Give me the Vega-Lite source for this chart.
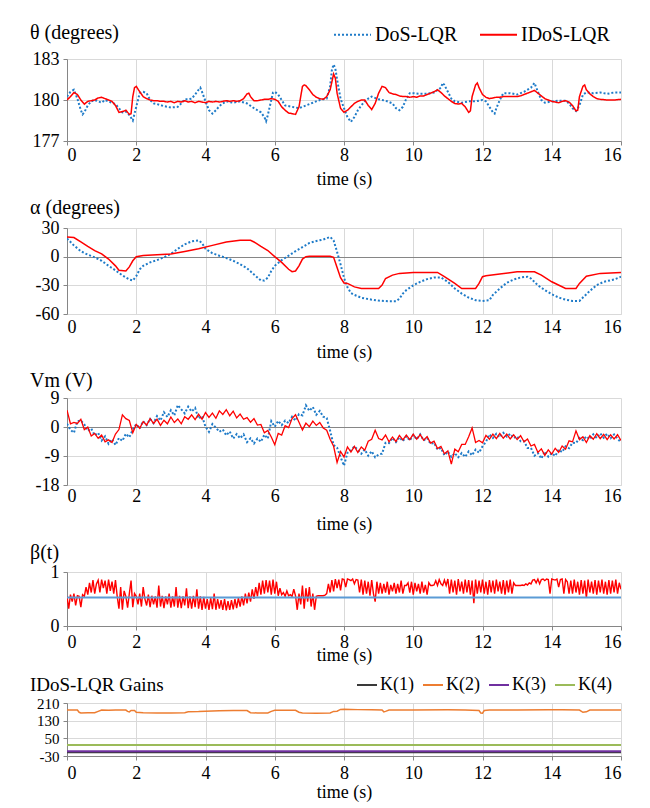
{
"$schema":"https://vega.github.io/schema/vega-lite/v6.json",
"background":"white",
"padding":{"left":30,"top":15,"right":10,"bottom":3},
"spacing":10,
"resolve":{"scale":{"color":"independent","strokeDash":"independent"},"legend":{"color":"independent","strokeDash":"independent"}},
"config":{
 "font":"Liberation Serif",
 "view":{"stroke":null},
 "axis":{"labelFont":"Liberation Serif","labelFontSize":18,"labelColor":"#000","titleFont":"Liberation Serif","titleFontSize":18,"titleFontWeight":"normal","titleColor":"#000","gridColor":"#d9d9d9","domainColor":"#868686","tickColor":"#868686","tickSize":4,"labelPadding":3},
 "axisY":{"labelPadding":4,"labelOverlap":false,"labelExpr":"datum.value + ''"},
 "title":{"font":"Liberation Serif","fontSize":20,"fontWeight":"normal","anchor":"start","frame":"group","color":"#000"},
 "legend":{"labelFont":"Liberation Serif","labelColor":"#000","orient":"none","direction":"horizontal","symbolType":"stroke","symbolStrokeWidth":2}
},
"datasets":{
"thD":[{"t":0,"v":180.25},{"t":0.1,"v":180.6},{"t":0.2,"v":180.75},{"t":0.3,"v":180.1},{"t":0.4,"v":179.25},{"t":0.45,"v":178.95},{"t":0.5,"v":179.1},{"t":0.6,"v":179.6},{"t":0.7,"v":179.9},{"t":0.8,"v":180},{"t":0.9,"v":179.9},{"t":1,"v":179.8},{"t":1.1,"v":180},{"t":1.2,"v":179.9},{"t":1.3,"v":179.8},{"t":1.4,"v":179.7},{"t":1.5,"v":179.4},{"t":1.6,"v":179.1},{"t":1.7,"v":179.15},{"t":1.8,"v":178.9},{"t":1.9,"v":178.5},{"t":2,"v":179.5},{"t":2.1,"v":180.5},{"t":2.2,"v":180.6},{"t":2.3,"v":180.5},{"t":2.4,"v":180},{"t":2.5,"v":179.75},{"t":2.6,"v":179.7},{"t":2.8,"v":179.55},{"t":3,"v":179.45},{"t":3.2,"v":179.5},{"t":3.3,"v":179.75},{"t":3.4,"v":180.05},{"t":3.5,"v":180.05},{"t":3.6,"v":180.1},{"t":3.7,"v":180.4},{"t":3.8,"v":180.75},{"t":3.85,"v":180.9},{"t":3.9,"v":180.6},{"t":4,"v":179.9},{"t":4.1,"v":179.25},{"t":4.2,"v":179},{"t":4.3,"v":179.25},{"t":4.4,"v":179.55},{"t":4.5,"v":179.75},{"t":4.6,"v":179.9},{"t":4.8,"v":179.8},{"t":5,"v":179.9},{"t":5.2,"v":179.75},{"t":5.4,"v":179.4},{"t":5.5,"v":179.25},{"t":5.6,"v":179.1},{"t":5.7,"v":178.75},{"t":5.75,"v":178.45},{"t":5.8,"v":178.9},{"t":5.9,"v":180},{"t":5.95,"v":180.55},{"t":6,"v":180.6},{"t":6.1,"v":180.4},{"t":6.2,"v":180},{"t":6.3,"v":179.6},{"t":6.5,"v":179.5},{"t":6.7,"v":179.4},{"t":6.9,"v":179.6},{"t":7.1,"v":179.8},{"t":7.3,"v":180},{"t":7.5,"v":180.1},{"t":7.6,"v":181},{"t":7.65,"v":182.2},{"t":7.7,"v":182.6},{"t":7.75,"v":182.3},{"t":7.8,"v":181.5},{"t":7.9,"v":180.1},{"t":8,"v":179.4},{"t":8.1,"v":178.75},{"t":8.2,"v":178.4},{"t":8.3,"v":178.75},{"t":8.4,"v":179.25},{"t":8.5,"v":179.6},{"t":8.6,"v":179.9},{"t":8.7,"v":180.1},{"t":8.8,"v":180.25},{"t":9,"v":180.05},{"t":9.2,"v":179.95},{"t":9.4,"v":179.75},{"t":9.5,"v":179.4},{"t":9.6,"v":179.25},{"t":9.7,"v":179.5},{"t":9.8,"v":180.1},{"t":9.9,"v":180.5},{"t":10,"v":180.5},{"t":10.2,"v":180.45},{"t":10.4,"v":180.45},{"t":10.6,"v":180.55},{"t":10.8,"v":180.9},{"t":10.85,"v":181.25},{"t":10.9,"v":181.1},{"t":11,"v":180.6},{"t":11.1,"v":180.1},{"t":11.2,"v":179.9},{"t":11.4,"v":179.8},{"t":11.6,"v":179.9},{"t":11.8,"v":179.9},{"t":12,"v":180},{"t":12.1,"v":179.9},{"t":12.2,"v":179.5},{"t":12.3,"v":179.1},{"t":12.35,"v":179},{"t":12.4,"v":179.4},{"t":12.5,"v":180},{"t":12.6,"v":180.5},{"t":12.8,"v":180.5},{"t":13,"v":180.4},{"t":13.2,"v":180.6},{"t":13.4,"v":180.9},{"t":13.5,"v":181.25},{"t":13.6,"v":180.6},{"t":13.7,"v":180},{"t":13.8,"v":179.8},{"t":14,"v":179.9},{"t":14.2,"v":179.95},{"t":14.4,"v":179.95},{"t":14.5,"v":179.75},{"t":14.6,"v":179.4},{"t":14.7,"v":179.2},{"t":14.8,"v":179.6},{"t":14.9,"v":180.4},{"t":15,"v":180.55},{"t":15.2,"v":180.5},{"t":15.4,"v":180.55},{"t":15.6,"v":180.45},{"t":15.8,"v":180.55},{"t":16,"v":180.55}],
"thI":[{"t":0,"v":180},{"t":0.1,"v":180.25},{"t":0.2,"v":180.55},{"t":0.3,"v":180.4},{"t":0.4,"v":180},{"t":0.5,"v":179.7},{"t":0.6,"v":179.9},{"t":0.7,"v":179.95},{"t":0.8,"v":180},{"t":0.9,"v":180.15},{"t":1,"v":180.2},{"t":1.1,"v":180.1},{"t":1.2,"v":180},{"t":1.3,"v":179.9},{"t":1.4,"v":179.6},{"t":1.5,"v":179.1},{"t":1.6,"v":179.15},{"t":1.7,"v":179.25},{"t":1.8,"v":178.95},{"t":1.85,"v":179},{"t":1.9,"v":180.25},{"t":1.95,"v":180.9},{"t":2,"v":181},{"t":2.1,"v":180.6},{"t":2.2,"v":180.25},{"t":2.3,"v":180.1},{"t":2.4,"v":180},{"t":2.5,"v":179.95},{"t":2.6,"v":179.95},{"t":2.7,"v":179.9},{"t":2.8,"v":179.9},{"t":2.9,"v":179.85},{"t":3,"v":179.9},{"t":3.1,"v":179.8},{"t":3.2,"v":179.9},{"t":3.3,"v":179.85},{"t":3.4,"v":179.95},{"t":3.5,"v":179.85},{"t":3.6,"v":179.9},{"t":3.7,"v":179.8},{"t":3.8,"v":179.9},{"t":3.9,"v":179.85},{"t":4,"v":179.8},{"t":4.1,"v":179.9},{"t":4.2,"v":179.85},{"t":4.3,"v":179.9},{"t":4.4,"v":179.85},{"t":4.5,"v":179.9},{"t":4.6,"v":179.95},{"t":4.7,"v":179.9},{"t":4.8,"v":179.95},{"t":4.9,"v":179.9},{"t":5,"v":179.95},{"t":5.1,"v":180.1},{"t":5.2,"v":180.45},{"t":5.25,"v":180.5},{"t":5.3,"v":180.25},{"t":5.4,"v":179.95},{"t":5.5,"v":179.95},{"t":5.6,"v":180},{"t":5.7,"v":180.05},{"t":5.8,"v":180.05},{"t":5.9,"v":180.1},{"t":6,"v":180.05},{"t":6.1,"v":179.9},{"t":6.2,"v":179.5},{"t":6.3,"v":179.25},{"t":6.4,"v":179.05},{"t":6.5,"v":179},{"t":6.6,"v":178.95},{"t":6.7,"v":179.5},{"t":6.8,"v":181},{"t":6.85,"v":181.1},{"t":6.9,"v":181.05},{"t":7,"v":180.75},{"t":7.1,"v":180.4},{"t":7.2,"v":180.2},{"t":7.3,"v":180.1},{"t":7.4,"v":180.05},{"t":7.5,"v":180.25},{"t":7.6,"v":180.75},{"t":7.7,"v":181.9},{"t":7.75,"v":181.6},{"t":7.8,"v":180.5},{"t":7.9,"v":179.4},{"t":8,"v":179.1},{"t":8.1,"v":179.25},{"t":8.2,"v":179.5},{"t":8.3,"v":179.75},{"t":8.4,"v":179.9},{"t":8.5,"v":180},{"t":8.6,"v":180},{"t":8.7,"v":179.6},{"t":8.8,"v":179.3},{"t":8.9,"v":179.75},{"t":9,"v":180.5},{"t":9.1,"v":181},{"t":9.2,"v":180.9},{"t":9.3,"v":180.55},{"t":9.4,"v":180.45},{"t":9.5,"v":180.4},{"t":9.6,"v":180.3},{"t":9.7,"v":180.25},{"t":9.8,"v":180.25},{"t":9.9,"v":180.2},{"t":10,"v":180.25},{"t":10.1,"v":180.2},{"t":10.2,"v":180.3},{"t":10.3,"v":180.3},{"t":10.4,"v":180.4},{"t":10.5,"v":180.5},{"t":10.6,"v":180.6},{"t":10.7,"v":180.75},{"t":10.8,"v":180.55},{"t":10.9,"v":180.3},{"t":11,"v":180.1},{"t":11.1,"v":179.9},{"t":11.2,"v":179.75},{"t":11.3,"v":179.7},{"t":11.4,"v":179.75},{"t":11.5,"v":179.5},{"t":11.6,"v":179.1},{"t":11.65,"v":179.2},{"t":11.7,"v":180.25},{"t":11.8,"v":181.1},{"t":11.85,"v":181.25},{"t":11.9,"v":180.9},{"t":12,"v":180.4},{"t":12.1,"v":180.2},{"t":12.2,"v":180.1},{"t":12.3,"v":180.15},{"t":12.4,"v":180.2},{"t":12.5,"v":180.2},{"t":12.6,"v":180.25},{"t":12.8,"v":180.25},{"t":13,"v":180.25},{"t":13.1,"v":180.3},{"t":13.2,"v":180.4},{"t":13.3,"v":180.5},{"t":13.4,"v":180.6},{"t":13.5,"v":180.7},{"t":13.6,"v":180.5},{"t":13.7,"v":180.3},{"t":13.8,"v":180.1},{"t":13.9,"v":180},{"t":14,"v":179.9},{"t":14.1,"v":179.85},{"t":14.2,"v":179.8},{"t":14.3,"v":179.9},{"t":14.4,"v":179.95},{"t":14.5,"v":179.85},{"t":14.6,"v":179.6},{"t":14.7,"v":179.2},{"t":14.75,"v":179.25},{"t":14.8,"v":180.25},{"t":14.9,"v":181},{"t":14.95,"v":181.1},{"t":15,"v":180.75},{"t":15.1,"v":180.45},{"t":15.2,"v":180.25},{"t":15.3,"v":180.1},{"t":15.4,"v":180.05},{"t":15.6,"v":180},{"t":15.8,"v":180},{"t":16,"v":180.05}],
"alD":[{"t":0,"v":19},{"t":0.2,"v":11.8},{"t":0.4,"v":5.7},{"t":0.6,"v":2.1},{"t":0.8,"v":-0.7},{"t":1,"v":-4.3},{"t":1.2,"v":-9.6},{"t":1.4,"v":-14.3},{"t":1.6,"v":-19.6},{"t":1.8,"v":-23.9},{"t":1.9,"v":-25},{"t":2,"v":-20.4},{"t":2.1,"v":-13.2},{"t":2.2,"v":-9.6},{"t":2.4,"v":-6},{"t":2.6,"v":-3.6},{"t":2.8,"v":-0.7},{"t":3,"v":2.9},{"t":3.2,"v":8.2},{"t":3.4,"v":12.9},{"t":3.6,"v":16},{"t":3.8,"v":17.1},{"t":3.9,"v":14.3},{"t":4,"v":8.2},{"t":4.2,"v":3.6},{"t":4.4,"v":1},{"t":4.6,"v":-1.4},{"t":4.8,"v":-4.3},{"t":5,"v":-7.9},{"t":5.2,"v":-12.1},{"t":5.4,"v":-18.6},{"t":5.6,"v":-25},{"t":5.7,"v":-25},{"t":5.8,"v":-22},{"t":5.9,"v":-15},{"t":6,"v":-9.6},{"t":6.2,"v":-3.6},{"t":6.4,"v":1},{"t":6.6,"v":5.7},{"t":6.8,"v":10},{"t":7,"v":14.3},{"t":7.2,"v":16.4},{"t":7.4,"v":17.9},{"t":7.6,"v":20.7},{"t":7.7,"v":17},{"t":7.8,"v":5},{"t":7.9,"v":-8},{"t":8,"v":-22},{"t":8.1,"v":-32},{"t":8.2,"v":-38},{"t":8.3,"v":-40},{"t":8.5,"v":-43},{"t":8.8,"v":-45},{"t":9,"v":-46},{"t":9.3,"v":-46.7},{"t":9.5,"v":-46.7},{"t":9.6,"v":-44},{"t":9.7,"v":-38.6},{"t":9.8,"v":-35},{"t":10,"v":-30},{"t":10.2,"v":-26.3},{"t":10.4,"v":-23.5},{"t":10.6,"v":-21.8},{"t":10.8,"v":-21.8},{"t":11,"v":-26.3},{"t":11.2,"v":-33.3},{"t":11.4,"v":-38.6},{"t":11.6,"v":-42.8},{"t":11.8,"v":-45.6},{"t":12,"v":-46.3},{"t":12.2,"v":-45.6},{"t":12.3,"v":-40},{"t":12.5,"v":-33.3},{"t":12.7,"v":-27.4},{"t":12.9,"v":-23.9},{"t":13.1,"v":-21.8},{"t":13.3,"v":-21},{"t":13.4,"v":-22.8},{"t":13.6,"v":-30},{"t":13.8,"v":-35},{"t":14,"v":-39.3},{"t":14.2,"v":-42.8},{"t":14.4,"v":-45},{"t":14.6,"v":-46.3},{"t":14.8,"v":-46.3},{"t":14.9,"v":-42.8},{"t":15.1,"v":-35.8},{"t":15.3,"v":-29.8},{"t":15.5,"v":-26.3},{"t":15.8,"v":-23.9},{"t":16,"v":-21}],
"alI":[{"t":0,"v":20.7},{"t":0.2,"v":20},{"t":0.4,"v":15.4},{"t":0.6,"v":10.7},{"t":0.8,"v":6.4},{"t":1,"v":2.9},{"t":1.2,"v":-2.5},{"t":1.4,"v":-9.6},{"t":1.5,"v":-14.3},{"t":1.7,"v":-15},{"t":1.8,"v":-10.7},{"t":1.9,"v":-4.3},{"t":2,"v":0},{"t":2.2,"v":1.1},{"t":2.6,"v":2.1},{"t":3,"v":2.9},{"t":3.4,"v":5.4},{"t":3.8,"v":8.2},{"t":4.2,"v":11.8},{"t":4.6,"v":15.4},{"t":5,"v":17.1},{"t":5.3,"v":17.1},{"t":5.4,"v":15.4},{"t":5.6,"v":10.7},{"t":5.8,"v":6.4},{"t":6,"v":0},{"t":6.2,"v":-6},{"t":6.4,"v":-13.2},{"t":6.5,"v":-15.7},{"t":6.6,"v":-15},{"t":6.7,"v":-9.6},{"t":6.8,"v":-2.5},{"t":6.9,"v":0},{"t":7,"v":0.4},{"t":7.6,"v":0.4},{"t":7.7,"v":-0.7},{"t":7.8,"v":-11.4},{"t":7.9,"v":-22},{"t":8,"v":-27.5},{"t":8.1,"v":-28},{"t":8.3,"v":-31.6},{"t":8.5,"v":-33.3},{"t":9,"v":-33.3},{"t":9.1,"v":-29.8},{"t":9.2,"v":-22.8},{"t":9.4,"v":-19.3},{"t":9.6,"v":-17.5},{"t":10,"v":-16.5},{"t":10.7,"v":-16.5},{"t":10.9,"v":-21},{"t":11.2,"v":-28},{"t":11.4,"v":-33.3},{"t":11.8,"v":-33.3},{"t":11.9,"v":-28},{"t":12,"v":-21},{"t":12.1,"v":-20},{"t":12.5,"v":-18.2},{"t":13,"v":-15.8},{"t":13.5,"v":-15.8},{"t":13.7,"v":-19.3},{"t":14,"v":-26.3},{"t":14.4,"v":-33.3},{"t":14.7,"v":-33.3},{"t":14.8,"v":-28},{"t":15,"v":-20.4},{"t":15.4,"v":-17.5},{"t":16,"v":-16.5}],
"vmD":[{"t":0,"v":1},{"t":0.1,"v":-0.9},{"t":0.2,"v":-1.8},{"t":0.3,"v":1.8},{"t":0.4,"v":2},{"t":0.5,"v":0.8},{"t":0.6,"v":-1.2},{"t":0.7,"v":-0.5},{"t":0.8,"v":-2.6},{"t":0.9,"v":-1.8},{"t":1,"v":-4.2},{"t":1.1,"v":-2.9},{"t":1.2,"v":-5.2},{"t":1.3,"v":-3.8},{"t":1.4,"v":-5.6},{"t":1.5,"v":-3.4},{"t":1.6,"v":-4.3},{"t":1.7,"v":-2.1},{"t":1.8,"v":-3.2},{"t":1.9,"v":-0.8},{"t":2,"v":0.9},{"t":2.1,"v":-0.4},{"t":2.2,"v":1.8},{"t":2.3,"v":0.6},{"t":2.4,"v":2.5},{"t":2.5,"v":1.2},{"t":2.6,"v":3.4},{"t":2.7,"v":2},{"t":2.8,"v":4.6},{"t":2.9,"v":3.1},{"t":3,"v":5.2},{"t":3.1,"v":3.6},{"t":3.2,"v":6.8},{"t":3.3,"v":5.5},{"t":3.4,"v":4.2},{"t":3.5,"v":6.3},{"t":3.6,"v":4.8},{"t":3.7,"v":5.9},{"t":3.8,"v":2.6},{"t":3.9,"v":3.4},{"t":4,"v":0.1},{"t":4.1,"v":-1.5},{"t":4.2,"v":0.9},{"t":4.3,"v":-0.2},{"t":4.4,"v":-1.5},{"t":4.5,"v":-0.8},{"t":4.6,"v":-2.6},{"t":4.7,"v":-1.4},{"t":4.8,"v":-3.6},{"t":4.9,"v":-2.2},{"t":5,"v":-3.5},{"t":5.1,"v":-2.3},{"t":5.2,"v":-4.7},{"t":5.3,"v":-3.5},{"t":5.4,"v":-5.1},{"t":5.5,"v":-3.6},{"t":5.6,"v":-4.6},{"t":5.7,"v":-2.4},{"t":5.8,"v":-3.6},{"t":5.9,"v":1.8},{"t":6,"v":0.1},{"t":6.1,"v":1.9},{"t":6.2,"v":0.6},{"t":6.3,"v":2},{"t":6.4,"v":1.2},{"t":6.5,"v":3.2},{"t":6.6,"v":2},{"t":6.7,"v":4},{"t":6.8,"v":3.6},{"t":6.9,"v":6.7},{"t":7,"v":5},{"t":7.1,"v":6.2},{"t":7.2,"v":3.8},{"t":7.3,"v":5},{"t":7.4,"v":3.2},{"t":7.5,"v":2.8},{"t":7.6,"v":-1.2},{"t":7.7,"v":-5.6},{"t":7.8,"v":-6.4},{"t":7.9,"v":-9.3},{"t":8,"v":-12},{"t":8.1,"v":-8},{"t":8.2,"v":-7.3},{"t":8.3,"v":-6},{"t":8.4,"v":-7.1},{"t":8.5,"v":-8.3},{"t":8.6,"v":-7},{"t":8.7,"v":-8.9},{"t":8.8,"v":-7.5},{"t":8.9,"v":-9.4},{"t":9,"v":-8.5},{"t":9.1,"v":-8.3},{"t":9.2,"v":-4.9},{"t":9.3,"v":-5},{"t":9.4,"v":-3.4},{"t":9.5,"v":-4.7},{"t":9.6,"v":-3.2},{"t":9.7,"v":-4.4},{"t":9.8,"v":-2.9},{"t":9.9,"v":-4.2},{"t":10,"v":-2.5},{"t":10.1,"v":-3.8},{"t":10.2,"v":-2.3},{"t":10.3,"v":-4.2},{"t":10.4,"v":-3.4},{"t":10.5,"v":-5.2},{"t":10.6,"v":-4.9},{"t":10.7,"v":-7},{"t":10.8,"v":-6.5},{"t":10.9,"v":-8.8},{"t":11,"v":-7.6},{"t":11.1,"v":-9.3},{"t":11.2,"v":-8.1},{"t":11.3,"v":-9.4},{"t":11.4,"v":-8.1},{"t":11.5,"v":-9.3},{"t":11.6,"v":-7.6},{"t":11.7,"v":-8.8},{"t":11.8,"v":-7},{"t":11.9,"v":-8},{"t":12,"v":-6},{"t":12.1,"v":-4.6},{"t":12.2,"v":-2.3},{"t":12.3,"v":-3.4},{"t":12.4,"v":-2.1},{"t":12.5,"v":-3.2},{"t":12.6,"v":-1.8},{"t":12.7,"v":-3},{"t":12.8,"v":-2.1},{"t":12.9,"v":-3.4},{"t":13,"v":-2.9},{"t":13.1,"v":-4.4},{"t":13.2,"v":-4.4},{"t":13.3,"v":-6.5},{"t":13.4,"v":-6.5},{"t":13.5,"v":-8.9},{"t":13.6,"v":-8.1},{"t":13.7,"v":-9.8},{"t":13.8,"v":-7.6},{"t":13.9,"v":-9.2},{"t":14,"v":-8.1},{"t":14.1,"v":-9},{"t":14.2,"v":-7},{"t":14.3,"v":-7.8},{"t":14.4,"v":-6},{"t":14.5,"v":-6.6},{"t":14.6,"v":-4.9},{"t":14.7,"v":-5},{"t":14.8,"v":-3.4},{"t":14.9,"v":-4.1},{"t":15,"v":-2.9},{"t":15.1,"v":-3.8},{"t":15.2,"v":-2.3},{"t":15.3,"v":-3.4},{"t":15.4,"v":-2},{"t":15.5,"v":-3.3},{"t":15.6,"v":-2.1},{"t":15.7,"v":-3.5},{"t":15.8,"v":-2.3},{"t":15.9,"v":-3.6},{"t":16,"v":-4.8}],
"vmI":[{"t":0,"v":5.2},{"t":0.1,"v":1},{"t":0.2,"v":1.4},{"t":0.3,"v":1.1},{"t":0.4,"v":2.4},{"t":0.5,"v":-0.8},{"t":0.6,"v":0},{"t":0.7,"v":-2.8},{"t":0.8,"v":-2},{"t":0.9,"v":-3.5},{"t":1,"v":-2.5},{"t":1.1,"v":-4.6},{"t":1.2,"v":-4},{"t":1.3,"v":-4.8},{"t":1.4,"v":-2.2},{"t":1.5,"v":-0.8},{"t":1.6,"v":3.8},{"t":1.7,"v":2.6},{"t":1.8,"v":2},{"t":1.9,"v":-1.8},{"t":2,"v":0.8},{"t":2.1,"v":-0.4},{"t":2.2,"v":1.7},{"t":2.3,"v":0.6},{"t":2.4,"v":2.6},{"t":2.5,"v":1.1},{"t":2.6,"v":2.4},{"t":2.7,"v":0.5},{"t":2.8,"v":2.1},{"t":2.9,"v":1},{"t":3,"v":3.1},{"t":3.1,"v":1.4},{"t":3.2,"v":2.5},{"t":3.3,"v":1},{"t":3.4,"v":3.2},{"t":3.5,"v":2.4},{"t":3.6,"v":3.8},{"t":3.7,"v":2.3},{"t":3.8,"v":4},{"t":3.9,"v":2.4},{"t":4,"v":4.5},{"t":4.1,"v":3},{"t":4.2,"v":4.3},{"t":4.3,"v":2.7},{"t":4.4,"v":5},{"t":4.5,"v":3.9},{"t":4.6,"v":5.4},{"t":4.7,"v":3.5},{"t":4.8,"v":4.9},{"t":4.9,"v":2.8},{"t":5,"v":4},{"t":5.1,"v":2.4},{"t":5.2,"v":2.9},{"t":5.3,"v":1.5},{"t":5.4,"v":2.6},{"t":5.5,"v":0.6},{"t":5.6,"v":0.8},{"t":5.7,"v":-1.8},{"t":5.8,"v":-1.1},{"t":5.9,"v":-3.1},{"t":6,"v":-5.5},{"t":6.1,"v":-2},{"t":6.2,"v":-2.5},{"t":6.3,"v":0.4},{"t":6.4,"v":-0.2},{"t":6.5,"v":2.6},{"t":6.6,"v":3.8},{"t":6.7,"v":1.5},{"t":6.8,"v":-0.9},{"t":6.9,"v":1.2},{"t":7,"v":0.1},{"t":7.1,"v":1.8},{"t":7.2,"v":0.5},{"t":7.3,"v":1.4},{"t":7.4,"v":-0.3},{"t":7.5,"v":-1},{"t":7.6,"v":-3.8},{"t":7.7,"v":-6},{"t":7.8,"v":-11},{"t":7.9,"v":-7.6},{"t":8,"v":-9.3},{"t":8.1,"v":-6.2},{"t":8.2,"v":-7.8},{"t":8.3,"v":-6},{"t":8.4,"v":-7.9},{"t":8.5,"v":-6.2},{"t":8.6,"v":-7.2},{"t":8.7,"v":-4.4},{"t":8.8,"v":-3.8},{"t":8.9,"v":-1},{"t":9,"v":-3.6},{"t":9.1,"v":-4},{"t":9.2,"v":-2.5},{"t":9.3,"v":-4.6},{"t":9.4,"v":-3.1},{"t":9.5,"v":-4.5},{"t":9.6,"v":-2.6},{"t":9.7,"v":-4},{"t":9.8,"v":-2.5},{"t":9.9,"v":-3.9},{"t":10,"v":-2.2},{"t":10.1,"v":-3.8},{"t":10.2,"v":-2.4},{"t":10.3,"v":-4.1},{"t":10.4,"v":-3},{"t":10.5,"v":-5},{"t":10.6,"v":-4.4},{"t":10.7,"v":-6.7},{"t":10.8,"v":-6},{"t":10.9,"v":-8.3},{"t":11,"v":-7.4},{"t":11.1,"v":-11.5},{"t":11.2,"v":-6.9},{"t":11.3,"v":-7.7},{"t":11.4,"v":-5.4},{"t":11.5,"v":-5.4},{"t":11.6,"v":-3},{"t":11.7,"v":-0.3},{"t":11.8,"v":-4.8},{"t":11.9,"v":-4.2},{"t":12,"v":-4.9},{"t":12.1,"v":-2.6},{"t":12.2,"v":-3.8},{"t":12.3,"v":-2.2},{"t":12.4,"v":-3.6},{"t":12.5,"v":-2},{"t":12.6,"v":-3.5},{"t":12.7,"v":-2.2},{"t":12.8,"v":-3.7},{"t":12.9,"v":-2.4},{"t":13,"v":-3.9},{"t":13.1,"v":-2.7},{"t":13.2,"v":-4.6},{"t":13.3,"v":-3.7},{"t":13.4,"v":-5.9},{"t":13.5,"v":-5.4},{"t":13.6,"v":-7.9},{"t":13.7,"v":-6.8},{"t":13.8,"v":-8.8},{"t":13.9,"v":-7.1},{"t":14,"v":-8.4},{"t":14.1,"v":-6.6},{"t":14.2,"v":-7.9},{"t":14.3,"v":-5.9},{"t":14.4,"v":-6.9},{"t":14.5,"v":-4.3},{"t":14.6,"v":-4.6},{"t":14.7,"v":-1.2},{"t":14.8,"v":-3.9},{"t":14.9,"v":-3},{"t":15,"v":-4.8},{"t":15.1,"v":-2.7},{"t":15.2,"v":-3.8},{"t":15.3,"v":-2.1},{"t":15.4,"v":-3.6},{"t":15.5,"v":-2.3},{"t":15.6,"v":-3.9},{"t":15.7,"v":-2.4},{"t":15.8,"v":-3.7},{"t":15.9,"v":-2.4},{"t":16,"v":-4.2}],
"beI":[{"t":0,"v":0.55},{"t":0.05,"v":0.32},{"t":0.1,"v":0.58},{"t":0.15,"v":0.45},{"t":0.2,"v":0.6},{"t":0.25,"v":0.38},{"t":0.3,"v":0.56},{"t":0.35,"v":0.55},{"t":0.4,"v":0.35},{"t":0.45,"v":0.58},{"t":0.5,"v":0.55},{"t":0.55,"v":0.72},{"t":0.6,"v":0.58},{"t":0.65,"v":0.8},{"t":0.7,"v":0.62},{"t":0.75,"v":0.85},{"t":0.8,"v":0.6},{"t":0.85,"v":0.78},{"t":0.9,"v":0.85},{"t":0.95,"v":0.62},{"t":1,"v":0.86},{"t":1.05,"v":0.7},{"t":1.1,"v":0.84},{"t":1.15,"v":0.6},{"t":1.2,"v":0.86},{"t":1.25,"v":0.65},{"t":1.3,"v":0.82},{"t":1.35,"v":0.6},{"t":1.4,"v":0.85},{"t":1.45,"v":0.55},{"t":1.5,"v":0.32},{"t":1.55,"v":0.72},{"t":1.6,"v":0.3},{"t":1.65,"v":0.65},{"t":1.7,"v":0.55},{"t":1.75,"v":0.34},{"t":1.8,"v":0.6},{"t":1.85,"v":0.84},{"t":1.9,"v":0.35},{"t":1.95,"v":0.6},{"t":2,"v":0.55},{"t":2.05,"v":0.4},{"t":2.1,"v":0.6},{"t":2.15,"v":0.36},{"t":2.2,"v":0.72},{"t":2.25,"v":0.5},{"t":2.3,"v":0.38},{"t":2.35,"v":0.58},{"t":2.4,"v":0.35},{"t":2.45,"v":0.56},{"t":2.5,"v":0.4},{"t":2.55,"v":0.55},{"t":2.6,"v":0.34},{"t":2.65,"v":0.75},{"t":2.7,"v":0.36},{"t":2.75,"v":0.56},{"t":2.8,"v":0.33},{"t":2.85,"v":0.55},{"t":2.9,"v":0.4},{"t":2.95,"v":0.6},{"t":3,"v":0.34},{"t":3.05,"v":0.55},{"t":3.1,"v":0.36},{"t":3.15,"v":0.72},{"t":3.2,"v":0.34},{"t":3.25,"v":0.56},{"t":3.3,"v":0.33},{"t":3.35,"v":0.55},{"t":3.4,"v":0.38},{"t":3.45,"v":0.7},{"t":3.5,"v":0.33},{"t":3.55,"v":0.55},{"t":3.6,"v":0.32},{"t":3.65,"v":0.56},{"t":3.7,"v":0.35},{"t":3.75,"v":0.68},{"t":3.8,"v":0.32},{"t":3.85,"v":0.55},{"t":3.9,"v":0.3},{"t":3.95,"v":0.54},{"t":4,"v":0.32},{"t":4.05,"v":0.5},{"t":4.1,"v":0.3},{"t":4.15,"v":0.52},{"t":4.2,"v":0.31},{"t":4.25,"v":0.6},{"t":4.3,"v":0.3},{"t":4.35,"v":0.5},{"t":4.4,"v":0.32},{"t":4.45,"v":0.48},{"t":4.5,"v":0.3},{"t":4.55,"v":0.5},{"t":4.6,"v":0.29},{"t":4.65,"v":0.46},{"t":4.7,"v":0.3},{"t":4.75,"v":0.48},{"t":4.8,"v":0.31},{"t":4.85,"v":0.5},{"t":4.9,"v":0.33},{"t":4.95,"v":0.52},{"t":5,"v":0.36},{"t":5.05,"v":0.55},{"t":5.1,"v":0.38},{"t":5.15,"v":0.6},{"t":5.2,"v":0.42},{"t":5.25,"v":0.62},{"t":5.3,"v":0.45},{"t":5.35,"v":0.68},{"t":5.4,"v":0.5},{"t":5.45,"v":0.72},{"t":5.5,"v":0.55},{"t":5.55,"v":0.8},{"t":5.6,"v":0.58},{"t":5.65,"v":0.84},{"t":5.7,"v":0.6},{"t":5.75,"v":0.85},{"t":5.8,"v":0.62},{"t":5.85,"v":0.84},{"t":5.9,"v":0.58},{"t":5.95,"v":0.86},{"t":6,"v":0.6},{"t":6.05,"v":0.82},{"t":6.1,"v":0.56},{"t":6.15,"v":0.7},{"t":6.2,"v":0.58},{"t":6.25,"v":0.62},{"t":6.3,"v":0.55},{"t":6.35,"v":0.65},{"t":6.4,"v":0.56},{"t":6.45,"v":0.58},{"t":6.5,"v":0.55},{"t":6.55,"v":0.68},{"t":6.6,"v":0.56},{"t":6.65,"v":0.3},{"t":6.7,"v":0.6},{"t":6.75,"v":0.4},{"t":6.8,"v":0.75},{"t":6.85,"v":0.32},{"t":6.9,"v":0.7},{"t":6.95,"v":0.45},{"t":7,"v":0.72},{"t":7.05,"v":0.36},{"t":7.1,"v":0.6},{"t":7.15,"v":0.3},{"t":7.2,"v":0.55},{"t":7.25,"v":0.56},{"t":7.3,"v":0.56},{"t":7.35,"v":0.56},{"t":7.4,"v":0.56},{"t":7.45,"v":0.57},{"t":7.5,"v":0.6},{"t":7.55,"v":0.78},{"t":7.6,"v":0.62},{"t":7.65,"v":0.85},{"t":7.7,"v":0.64},{"t":7.75,"v":0.87},{"t":7.8,"v":0.7},{"t":7.85,"v":0.86},{"t":7.9,"v":0.66},{"t":7.95,"v":0.87},{"t":8,"v":0.86},{"t":8.05,"v":0.72},{"t":8.1,"v":0.87},{"t":8.15,"v":0.86},{"t":8.2,"v":0.84},{"t":8.25,"v":0.87},{"t":8.3,"v":0.78},{"t":8.35,"v":0.86},{"t":8.4,"v":0.85},{"t":8.45,"v":0.62},{"t":8.5,"v":0.86},{"t":8.55,"v":0.58},{"t":8.6,"v":0.84},{"t":8.65,"v":0.6},{"t":8.7,"v":0.82},{"t":8.75,"v":0.56},{"t":8.8,"v":0.85},{"t":8.85,"v":0.6},{"t":8.9,"v":0.45},{"t":8.95,"v":0.82},{"t":9,"v":0.6},{"t":9.05,"v":0.8},{"t":9.1,"v":0.6},{"t":9.15,"v":0.78},{"t":9.2,"v":0.62},{"t":9.25,"v":0.82},{"t":9.3,"v":0.58},{"t":9.35,"v":0.76},{"t":9.4,"v":0.64},{"t":9.45,"v":0.8},{"t":9.5,"v":0.6},{"t":9.55,"v":0.78},{"t":9.6,"v":0.62},{"t":9.65,"v":0.84},{"t":9.7,"v":0.6},{"t":9.75,"v":0.75},{"t":9.8,"v":0.75},{"t":9.85,"v":0.8},{"t":9.9,"v":0.62},{"t":9.95,"v":0.82},{"t":10,"v":0.58},{"t":10.05,"v":0.8},{"t":10.1,"v":0.64},{"t":10.15,"v":0.78},{"t":10.2,"v":0.6},{"t":10.25,"v":0.82},{"t":10.3,"v":0.62},{"t":10.35,"v":0.76},{"t":10.4,"v":0.58},{"t":10.45,"v":0.8},{"t":10.5,"v":0.75},{"t":10.55,"v":0.75},{"t":10.6,"v":0.76},{"t":10.65,"v":0.84},{"t":10.7,"v":0.75},{"t":10.75,"v":0.86},{"t":10.8,"v":0.78},{"t":10.85,"v":0.75},{"t":10.9,"v":0.85},{"t":10.95,"v":0.75},{"t":11,"v":0.87},{"t":11.05,"v":0.6},{"t":11.1,"v":0.86},{"t":11.15,"v":0.62},{"t":11.2,"v":0.84},{"t":11.25,"v":0.58},{"t":11.3,"v":0.87},{"t":11.35,"v":0.64},{"t":11.4,"v":0.82},{"t":11.45,"v":0.6},{"t":11.5,"v":0.86},{"t":11.55,"v":0.62},{"t":11.6,"v":0.85},{"t":11.65,"v":0.58},{"t":11.7,"v":0.84},{"t":11.75,"v":0.42},{"t":11.8,"v":0.86},{"t":11.85,"v":0.6},{"t":11.9,"v":0.84},{"t":11.95,"v":0.62},{"t":12,"v":0.86},{"t":12.05,"v":0.6},{"t":12.1,"v":0.82},{"t":12.15,"v":0.58},{"t":12.2,"v":0.85},{"t":12.25,"v":0.62},{"t":12.3,"v":0.84},{"t":12.35,"v":0.6},{"t":12.4,"v":0.86},{"t":12.45,"v":0.64},{"t":12.5,"v":0.82},{"t":12.55,"v":0.6},{"t":12.6,"v":0.85},{"t":12.65,"v":0.58},{"t":12.7,"v":0.84},{"t":12.75,"v":0.62},{"t":12.8,"v":0.86},{"t":12.85,"v":0.6},{"t":12.9,"v":0.8},{"t":12.95,"v":0.75},{"t":13,"v":0.75},{"t":13.05,"v":0.75},{"t":13.1,"v":0.75},{"t":13.15,"v":0.76},{"t":13.2,"v":0.75},{"t":13.25,"v":0.78},{"t":13.3,"v":0.76},{"t":13.35,"v":0.8},{"t":13.4,"v":0.78},{"t":13.45,"v":0.85},{"t":13.5,"v":0.86},{"t":13.55,"v":0.8},{"t":13.6,"v":0.87},{"t":13.65,"v":0.78},{"t":13.7,"v":0.86},{"t":13.75,"v":0.87},{"t":13.8,"v":0.84},{"t":13.85,"v":0.87},{"t":13.9,"v":0.86},{"t":13.95,"v":0.6},{"t":14,"v":0.87},{"t":14.05,"v":0.86},{"t":14.1,"v":0.85},{"t":14.15,"v":0.87},{"t":14.2,"v":0.72},{"t":14.25,"v":0.86},{"t":14.3,"v":0.87},{"t":14.35,"v":0.6},{"t":14.4,"v":0.86},{"t":14.45,"v":0.82},{"t":14.5,"v":0.6},{"t":14.55,"v":0.84},{"t":14.6,"v":0.6},{"t":14.65,"v":0.86},{"t":14.7,"v":0.62},{"t":14.75,"v":0.82},{"t":14.8,"v":0.58},{"t":14.85,"v":0.85},{"t":14.9,"v":0.6},{"t":14.95,"v":0.84},{"t":15,"v":0.52},{"t":15.05,"v":0.86},{"t":15.1,"v":0.62},{"t":15.15,"v":0.82},{"t":15.2,"v":0.6},{"t":15.25,"v":0.85},{"t":15.3,"v":0.58},{"t":15.35,"v":0.84},{"t":15.4,"v":0.62},{"t":15.45,"v":0.86},{"t":15.5,"v":0.6},{"t":15.55,"v":0.82},{"t":15.6,"v":0.58},{"t":15.65,"v":0.85},{"t":15.7,"v":0.6},{"t":15.75,"v":0.84},{"t":15.8,"v":0.62},{"t":15.85,"v":0.86},{"t":15.9,"v":0.6},{"t":15.95,"v":0.8},{"t":16,"v":0.68}],
"beD":[{"t":0,"v":0.53},{"t":16,"v":0.53}],
"k1":[{"t":0,"v":-13},{"t":16,"v":-13}],
"k3":[{"t":0,"v":-9},{"t":16,"v":-9}],
"k4":[{"t":0,"v":20},{"t":16,"v":20}],
"k2":[{"t":0,"v":178},{"t":0.3,"v":178},{"t":0.35,"v":168},{"t":0.4,"v":165},{"t":0.6,"v":166},{"t":0.8,"v":166},{"t":0.9,"v":172},{"t":1,"v":178},{"t":1.2,"v":177},{"t":1.4,"v":178},{"t":1.7,"v":178},{"t":1.75,"v":172},{"t":1.8,"v":170},{"t":1.85,"v":176},{"t":1.95,"v":176},{"t":2,"v":168},{"t":2.2,"v":166},{"t":2.6,"v":165},{"t":3,"v":165},{"t":3.4,"v":166},{"t":3.5,"v":170},{"t":3.8,"v":171},{"t":4,"v":173},{"t":4.4,"v":175},{"t":4.8,"v":176},{"t":5.2,"v":176},{"t":5.3,"v":166},{"t":5.5,"v":165},{"t":5.8,"v":165},{"t":5.9,"v":172},{"t":6,"v":177},{"t":6.6,"v":177},{"t":6.7,"v":168},{"t":6.8,"v":165},{"t":7.2,"v":164},{"t":7.6,"v":165},{"t":7.7,"v":172},{"t":7.8,"v":173},{"t":7.9,"v":181},{"t":8,"v":182},{"t":8.4,"v":180},{"t":8.8,"v":179},{"t":9.1,"v":178},{"t":9.15,"v":170},{"t":9.2,"v":172},{"t":9.3,"v":178},{"t":10,"v":178},{"t":11,"v":179},{"t":11.5,"v":178},{"t":11.9,"v":176},{"t":11.95,"v":165},{"t":12,"v":164},{"t":12.05,"v":176},{"t":12.2,"v":178},{"t":13,"v":178},{"t":13.9,"v":179},{"t":14.3,"v":179},{"t":14.8,"v":178},{"t":14.9,"v":168},{"t":15,"v":170},{"t":15.1,"v":178},{"t":16,"v":178}]
},
"vconcat":[
{
 "width":554,"height":82,
 "title":{"text":"θ (degrees)","dx":-37,"offset":-28},
 "encoding":{
  "x":{"field":"t","type":"quantitative","scale":{"domain":[0,16],"nice":false},"axis":{"values":[0,2,4,6,8,10,12,14,16],"title":"time (s)","titlePadding":6,"labelPadding":1}},
  "y":{"field":"v","type":"quantitative","scale":{"domain":[177,183],"nice":false,"zero":false},"axis":{"values":[177,180,183],"title":null,"labelOverlap":false}}
 },
 "layer":[
  {"data":{"name":"thD"},"mark":{"type":"line","strokeWidth":2,"clip":true},
   "encoding":{
    "color":{"datum":"DoS-LQR","type":"nominal","scale":{"domain":["DoS-LQR","IDoS-LQR"],"range":["#1F7BC8","#FF0000"]},"legend":{"title":null,"legendX":266,"legendY":-44,"labelFontSize":20,"symbolSize":1369,"columnPadding":18,"labelOffset":3}},
    "strokeDash":{"datum":"DoS-LQR","type":"nominal","scale":{"domain":["DoS-LQR","IDoS-LQR"],"range":[[2,2],[1,0]]},"legend":{"title":null,"legendX":266,"legendY":-44,"labelFontSize":20,"symbolSize":1369,"columnPadding":18,"labelOffset":3}}}},
  {"data":{"name":"thI"},"mark":{"type":"line","strokeWidth":1.5,"clip":true},
   "encoding":{
    "color":{"datum":"IDoS-LQR","type":"nominal"},
    "strokeDash":{"datum":"IDoS-LQR","type":"nominal"}}}
 ]
},
{
 "width":554,"height":86,
 "title":{"text":"α (degrees)","dx":-37,"offset":1},
 "encoding":{
  "x":{"field":"t","type":"quantitative","scale":{"domain":[0,16],"nice":false},"axis":{"values":[0,2,4,6,8,10,12,14,16],"title":"time (s)","titlePadding":7,"labelPadding":4,"ticks":false,"domainColor":"#d9d9d9"}},
  "y":{"field":"v","type":"quantitative","scale":{"domain":[-60,30],"nice":false},"axis":{"values":[-60,-30,0,30],"title":null,"labelOverlap":false,"gridColor":{"condition":{"test":"datum.value === 0","value":"#868686"},"value":"#d9d9d9"}}}
 },
 "layer":[
  {"data":{"name":"alD"},"mark":{"type":"line","strokeWidth":2,"strokeDash":[2,2],"color":"#1F7BC8","clip":true}},
  {"data":{"name":"alI"},"mark":{"type":"line","strokeWidth":1.5,"color":"#FF0000","clip":true}}
 ]
},
{
 "width":554,"height":87,
 "title":{"text":"Vm (V)","dx":-37,"offset":-2},
 "encoding":{
  "x":{"field":"t","type":"quantitative","scale":{"domain":[0,16],"nice":false},"axis":{"values":[0,2,4,6,8,10,12,14,16],"title":"time (s)","titlePadding":10,"labelPadding":2,"ticks":false,"domainColor":"#d9d9d9"}},
  "y":{"field":"v","type":"quantitative","scale":{"domain":[-18,9],"nice":false},"axis":{"values":[-18,-9,0,9],"title":null,"labelOverlap":false,"gridColor":{"condition":{"test":"datum.value === 0","value":"#868686"},"value":"#d9d9d9"}}}
 },
 "layer":[
  {"data":{"name":"vmD"},"mark":{"type":"line","strokeWidth":2,"strokeDash":[2,2],"color":"#1F7BC8","clip":true}},
  {"data":{"name":"vmI"},"mark":{"type":"line","strokeWidth":1.3,"color":"#FF0000","clip":true}}
 ]
},
{
 "width":554,"height":54,
 "title":{"text":"β(t)","dx":-37,"offset":0},
 "encoding":{
  "x":{"field":"t","type":"quantitative","scale":{"domain":[0,16],"nice":false},"axis":{"values":[0,2,4,6,8,10,12,14,16],"title":"time (s)","titlePadding":-5,"labelPadding":3}},
  "y":{"field":"v","type":"quantitative","scale":{"domain":[0,1],"nice":false},"axis":{"values":[0,1],"title":null,"labelOverlap":false}}
 },
 "layer":[
  {"data":{"name":"beI"},"mark":{"type":"line","strokeWidth":1.4,"color":"#FF0000","clip":true}},
  {"data":{"name":"beD"},"mark":{"type":"line","strokeWidth":2,"color":"#5B9BD5"}}
 ]
},
{
 "width":554,"height":53,
 "title":{"text":"IDoS-LQR  Gains","dx":-37,"offset":-21,"fontSize":19},
 "encoding":{
  "x":{"field":"t","type":"quantitative","scale":{"domain":[0,16],"nice":false},"axis":{"values":[0,2,4,6,8,10,12,14,16],"title":"time (s)","titlePadding":1,"labelPadding":4}},
  "y":{"field":"v","type":"quantitative","scale":{"domain":[-30,210],"nice":false},"axis":{"values":[-30,50,130,210],"title":null,"labelFontSize":15,"labelOverlap":false}}
 },
 "layer":[
  {"data":{"name":"k1"},"mark":{"type":"line","strokeWidth":2},
   "encoding":{"color":{"datum":"K(1)","type":"nominal","scale":{"domain":["K(1)","K(2)","K(3)","K(4)"],"range":["#3A3A3A","#ED7D31","#7030A0","#9BBB59"]},"legend":{"title":null,"legendX":289,"legendY":-29,"labelFontSize":18,"symbolSize":400,"columnPadding":5,"labelOffset":2}}}},
  {"data":{"name":"k2"},"mark":{"type":"line","strokeWidth":1.5},
   "encoding":{"color":{"datum":"K(2)","type":"nominal"}}},
  {"data":{"name":"k3"},"mark":{"type":"line","strokeWidth":2},
   "encoding":{"color":{"datum":"K(3)","type":"nominal"}}},
  {"data":{"name":"k4"},"mark":{"type":"line","strokeWidth":2},
   "encoding":{"color":{"datum":"K(4)","type":"nominal"}}}
 ]
}
]
}
